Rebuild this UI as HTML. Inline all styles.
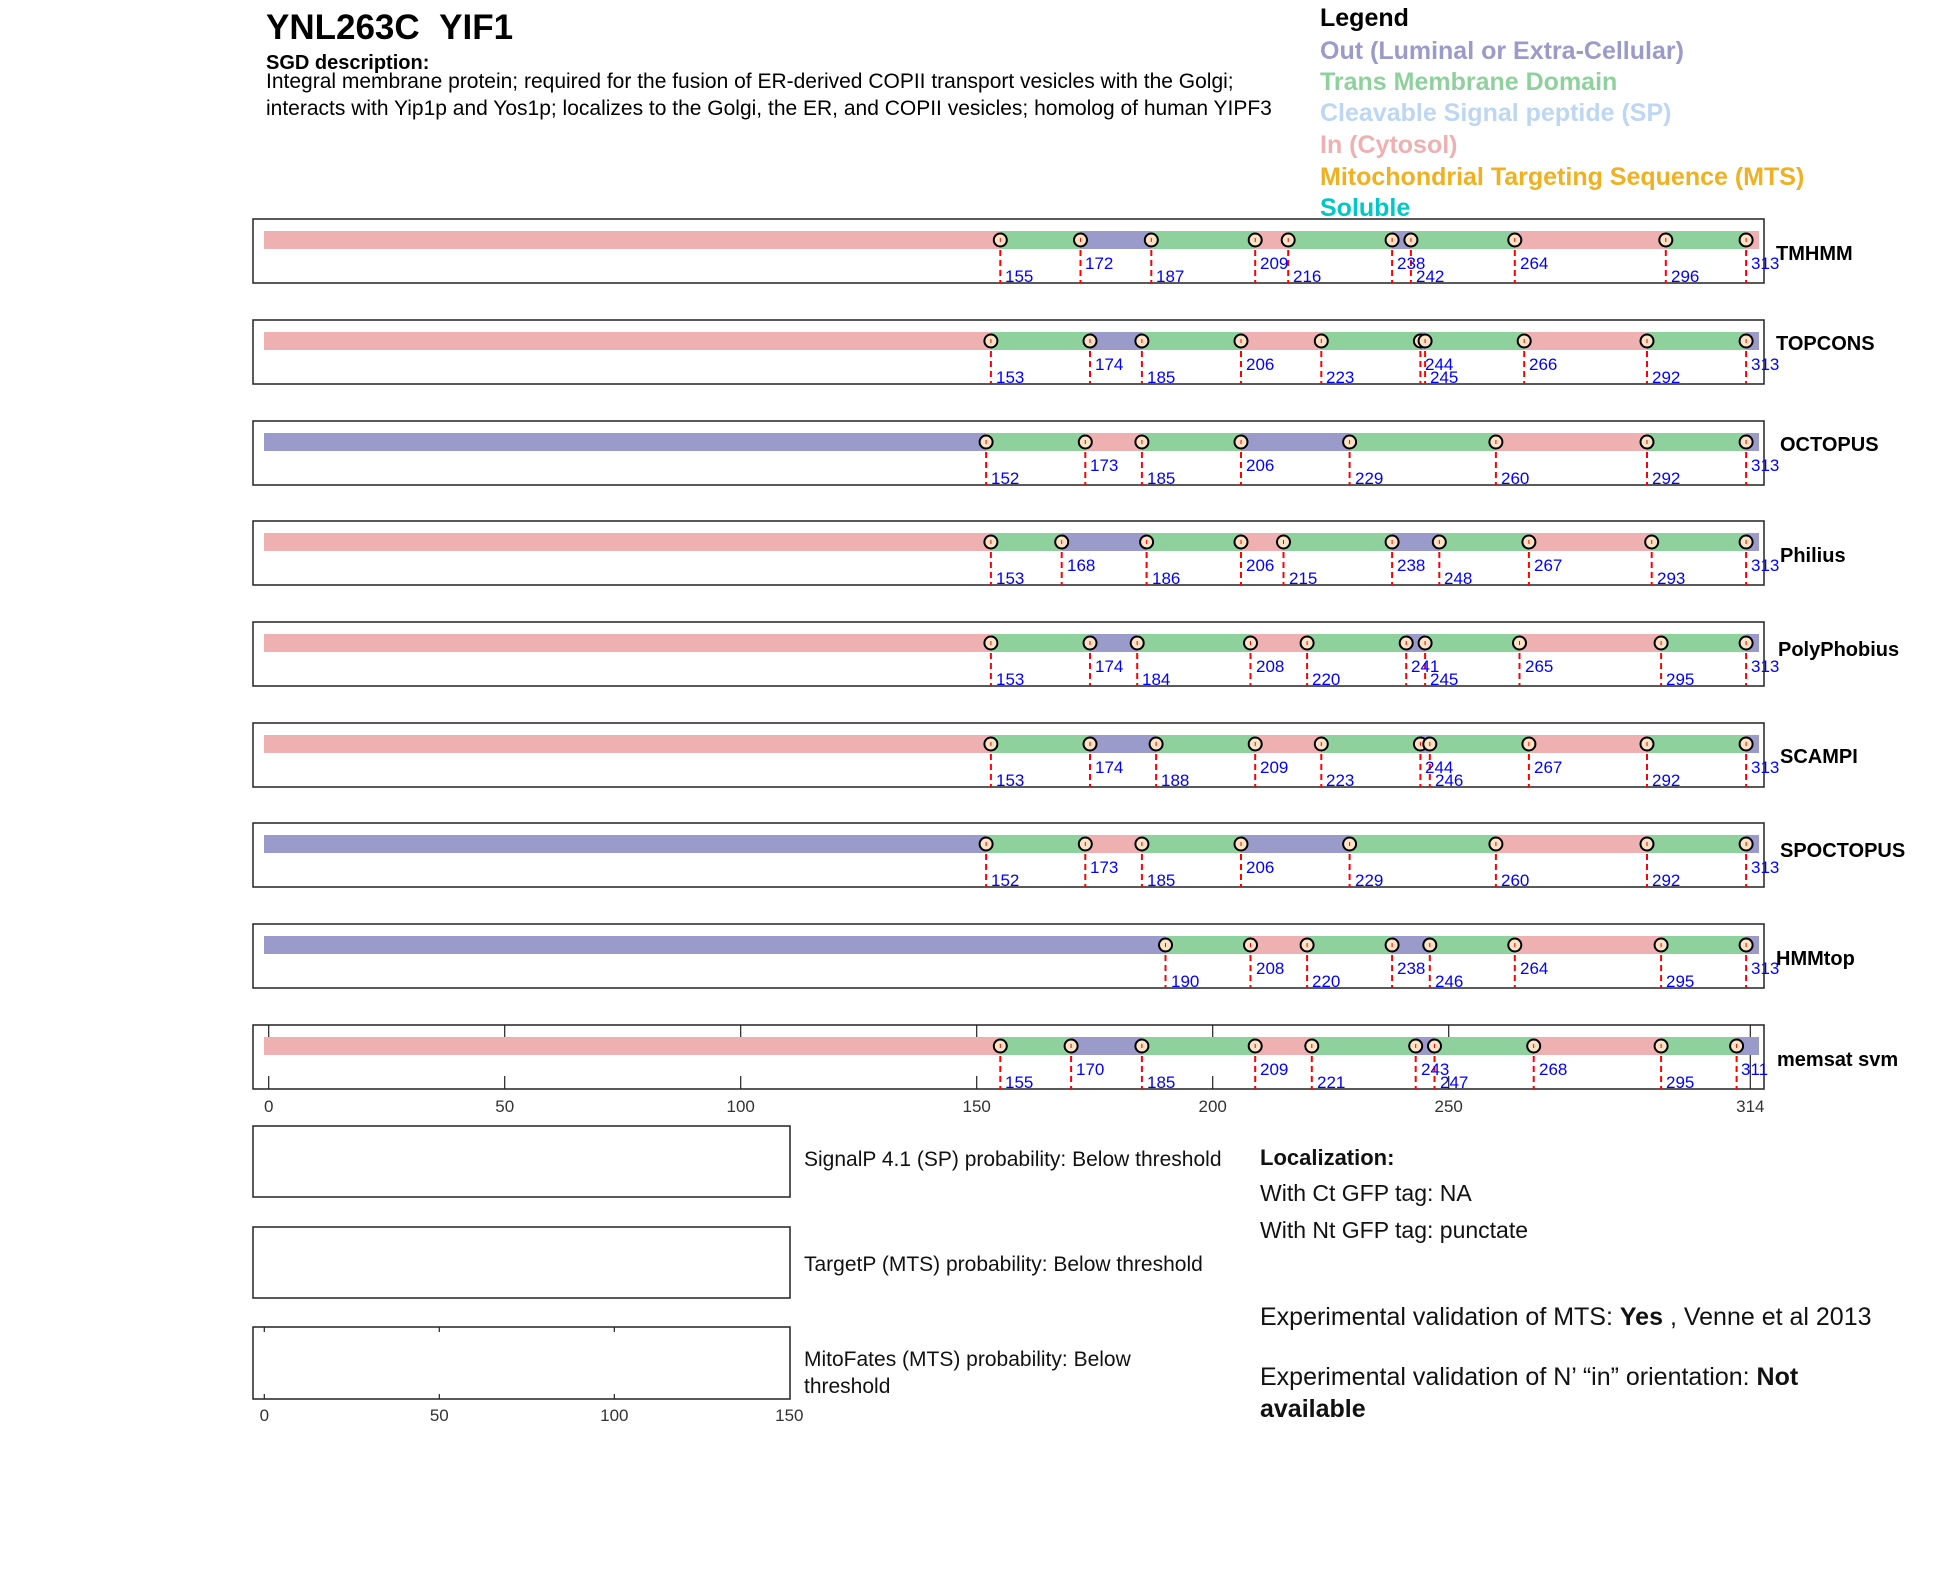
<!DOCTYPE html>
<html><head><meta charset="utf-8"><style>
body{margin:0;background:#fff;width:1950px;height:1573px;overflow:hidden;font-family:"Liberation Sans",Arial,sans-serif}
svg{position:absolute;left:0;top:0}
.lab{font-size:17px;fill:#0000ff}
.nm{font-size:20px;font-weight:bold;fill:#000}
.tk{font-size:17px;fill:#333}
</style></head><body>
<svg width="1950" height="1573" xmlns="http://www.w3.org/2000/svg" font-family="Liberation Sans, Arial, sans-serif">
<defs>
<g id="m"><line x1="0" y1="21" x2="0" y2="64" stroke="#f00" stroke-width="2" stroke-dasharray="6,4"/><circle cx="0" cy="21" r="6.5" fill="#fde3c5" stroke="#000" stroke-width="2"/><line x1="0" y1="19" x2="0" y2="23" stroke="#f00" stroke-width="1"/></g>
</defs>
<text x="266" y="39" font-size="35" font-weight="bold">YNL263C&#160;&#160;YIF1</text>
<text x="266" y="69" font-size="20" font-weight="bold">SGD description:</text>
<text x="266" y="88" font-size="21">Integral membrane protein; required for the fusion of ER-derived COPII transport vesicles with the Golgi;</text>
<text x="266" y="115" font-size="21">interacts with Yip1p and Yos1p; localizes to the Golgi, the ER, and COPII vesicles; homolog of human YIPF3</text>
<g font-size="25" font-weight="bold">
<text x="1320" y="26" fill="#000">Legend</text>
<text x="1320" y="59" fill="#9b9bcb">Out (Luminal or Extra-Cellular)</text>
<text x="1320" y="90" fill="#8fd19d">Trans Membrane Domain</text>
<text x="1320" y="121" fill="#bcd6f4">Cleavable Signal peptide (SP)</text>
<text x="1320" y="153" fill="#efb0b1">In (Cytosol)</text>
<text x="1320" y="185" fill="#f0b020">Mitochondrial Targeting Sequence (MTS)</text>
<text x="1320" y="216" fill="#00c8c8">Soluble</text>
</g>

<!-- Panel 1 TMHMM -->
<g transform="translate(0,219)">
<rect x="253" y="0" width="1511" height="64" fill="#fff" stroke="#222" stroke-width="1.5"/>
<g stroke-width="18">
<line x1="264" y1="21" x2="1000.3" y2="21" stroke="#efb0b1"/><line x1="1000.3" y1="21" x2="1080.5" y2="21" stroke="#8fd19d"/><line x1="1080.5" y1="21" x2="1151.3" y2="21" stroke="#9b9bcb"/><line x1="1151.3" y1="21" x2="1255.2" y2="21" stroke="#8fd19d"/><line x1="1255.2" y1="21" x2="1288.2" y2="21" stroke="#efb0b1"/><line x1="1288.2" y1="21" x2="1392.1" y2="21" stroke="#8fd19d"/><line x1="1392.1" y1="21" x2="1410.9" y2="21" stroke="#9b9bcb"/><line x1="1410.9" y1="21" x2="1514.8" y2="21" stroke="#8fd19d"/><line x1="1514.8" y1="21" x2="1665.8" y2="21" stroke="#efb0b1"/><line x1="1665.8" y1="21" x2="1746.1" y2="21" stroke="#8fd19d"/><line x1="1746.1" y1="21" x2="1759" y2="21" stroke="#efb0b1"/>
</g>
<use href="#m" x="1000.3"/><use href="#m" x="1080.5"/><use href="#m" x="1151.3"/><use href="#m" x="1255.2"/><use href="#m" x="1288.2"/><use href="#m" x="1392.1"/><use href="#m" x="1410.9"/><use href="#m" x="1514.8"/><use href="#m" x="1665.8"/><use href="#m" x="1746.1"/>
<g class="lab"><text x="1005" y="63">155</text><text x="1085" y="50">172</text><text x="1156" y="63">187</text><text x="1260" y="50">209</text><text x="1293" y="63">216</text><text x="1397" y="50">238</text><text x="1416" y="63">242</text><text x="1520" y="50">264</text><text x="1671" y="63">296</text><text x="1751" y="50">313</text></g>
<text class="nm" x="1776" y="41">TMHMM</text>
</g>

<!-- Panel 2 TOPCONS -->
<g transform="translate(0,320)">
<rect x="253" y="0" width="1511" height="64" fill="#fff" stroke="#222" stroke-width="1.5"/>
<g stroke-width="18">
<line x1="264" y1="21" x2="990.9" y2="21" stroke="#efb0b1"/><line x1="990.9" y1="21" x2="1090" y2="21" stroke="#8fd19d"/><line x1="1090" y1="21" x2="1141.9" y2="21" stroke="#9b9bcb"/><line x1="1141.9" y1="21" x2="1241" y2="21" stroke="#8fd19d"/><line x1="1241" y1="21" x2="1321.3" y2="21" stroke="#efb0b1"/><line x1="1321.3" y1="21" x2="1420.4" y2="21" stroke="#8fd19d"/><line x1="1420.4" y1="21" x2="1425.1" y2="21" stroke="#9b9bcb"/><line x1="1425.1" y1="21" x2="1524.2" y2="21" stroke="#8fd19d"/><line x1="1524.2" y1="21" x2="1647" y2="21" stroke="#efb0b1"/><line x1="1647" y1="21" x2="1746.1" y2="21" stroke="#8fd19d"/><line x1="1746.1" y1="21" x2="1759" y2="21" stroke="#9b9bcb"/>
</g>
<use href="#m" x="990.9"/><use href="#m" x="1090"/><use href="#m" x="1141.9"/><use href="#m" x="1241"/><use href="#m" x="1321.3"/><use href="#m" x="1420.4"/><use href="#m" x="1425.1"/><use href="#m" x="1524.2"/><use href="#m" x="1647"/><use href="#m" x="1746.1"/>
<g class="lab"><text x="996" y="63">153</text><text x="1095" y="50">174</text><text x="1147" y="63">185</text><text x="1246" y="50">206</text><text x="1326" y="63">223</text><text x="1425" y="50">244</text><text x="1430" y="63">245</text><text x="1529" y="50">266</text><text x="1652" y="63">292</text><text x="1751" y="50">313</text></g>
<text class="nm" x="1776" y="30">TOPCONS</text>
</g>

<!-- Panel 3 OCTOPUS -->
<g transform="translate(0,421)">
<rect x="253" y="0" width="1511" height="64" fill="#fff" stroke="#222" stroke-width="1.5"/>
<g stroke-width="18">
<line x1="264" y1="21" x2="986.1" y2="21" stroke="#9b9bcb"/><line x1="986.1" y1="21" x2="1085.3" y2="21" stroke="#8fd19d"/><line x1="1085.3" y1="21" x2="1141.9" y2="21" stroke="#efb0b1"/><line x1="1141.9" y1="21" x2="1241" y2="21" stroke="#8fd19d"/><line x1="1241" y1="21" x2="1349.6" y2="21" stroke="#9b9bcb"/><line x1="1349.6" y1="21" x2="1495.9" y2="21" stroke="#8fd19d"/><line x1="1495.9" y1="21" x2="1647" y2="21" stroke="#efb0b1"/><line x1="1647" y1="21" x2="1746.1" y2="21" stroke="#8fd19d"/><line x1="1746.1" y1="21" x2="1759" y2="21" stroke="#9b9bcb"/>
</g>
<use href="#m" x="986.1"/><use href="#m" x="1085.3"/><use href="#m" x="1141.9"/><use href="#m" x="1241"/><use href="#m" x="1349.6"/><use href="#m" x="1495.9"/><use href="#m" x="1647"/><use href="#m" x="1746.1"/>
<g class="lab"><text x="991" y="63">152</text><text x="1090" y="50">173</text><text x="1147" y="63">185</text><text x="1246" y="50">206</text><text x="1355" y="63">229</text><text x="1501" y="63">260</text><text x="1652" y="63">292</text><text x="1751" y="50">313</text></g>
<text class="nm" x="1780" y="30">OCTOPUS</text>
</g>

<!-- Panel 4 Philius -->
<g transform="translate(0,521)">
<rect x="253" y="0" width="1511" height="64" fill="#fff" stroke="#222" stroke-width="1.5"/>
<g stroke-width="18">
<line x1="264" y1="21" x2="990.9" y2="21" stroke="#efb0b1"/><line x1="990.9" y1="21" x2="1061.7" y2="21" stroke="#8fd19d"/><line x1="1061.7" y1="21" x2="1146.6" y2="21" stroke="#9b9bcb"/><line x1="1146.6" y1="21" x2="1241" y2="21" stroke="#8fd19d"/><line x1="1241" y1="21" x2="1283.5" y2="21" stroke="#efb0b1"/><line x1="1283.5" y1="21" x2="1392.1" y2="21" stroke="#8fd19d"/><line x1="1392.1" y1="21" x2="1439.3" y2="21" stroke="#9b9bcb"/><line x1="1439.3" y1="21" x2="1528.9" y2="21" stroke="#8fd19d"/><line x1="1528.9" y1="21" x2="1651.7" y2="21" stroke="#efb0b1"/><line x1="1651.7" y1="21" x2="1746.1" y2="21" stroke="#8fd19d"/><line x1="1746.1" y1="21" x2="1759" y2="21" stroke="#9b9bcb"/>
</g>
<use href="#m" x="990.9"/><use href="#m" x="1061.7"/><use href="#m" x="1146.6"/><use href="#m" x="1241"/><use href="#m" x="1283.5"/><use href="#m" x="1392.1"/><use href="#m" x="1439.3"/><use href="#m" x="1528.9"/><use href="#m" x="1651.7"/><use href="#m" x="1746.1"/>
<g class="lab"><text x="996" y="63">153</text><text x="1067" y="50">168</text><text x="1152" y="63">186</text><text x="1246" y="50">206</text><text x="1289" y="63">215</text><text x="1397" y="50">238</text><text x="1444" y="63">248</text><text x="1534" y="50">267</text><text x="1657" y="63">293</text><text x="1751" y="50">313</text></g>
<text class="nm" x="1780" y="41">Philius</text>
</g>

<!-- Panel 5 PolyPhobius -->
<g transform="translate(0,622)">
<rect x="253" y="0" width="1511" height="64" fill="#fff" stroke="#222" stroke-width="1.5"/>
<g stroke-width="18">
<line x1="264" y1="21" x2="990.9" y2="21" stroke="#efb0b1"/><line x1="990.9" y1="21" x2="1090" y2="21" stroke="#8fd19d"/><line x1="1090" y1="21" x2="1137.2" y2="21" stroke="#9b9bcb"/><line x1="1137.2" y1="21" x2="1250.5" y2="21" stroke="#8fd19d"/><line x1="1250.5" y1="21" x2="1307.1" y2="21" stroke="#efb0b1"/><line x1="1307.1" y1="21" x2="1406.2" y2="21" stroke="#8fd19d"/><line x1="1406.2" y1="21" x2="1425.1" y2="21" stroke="#9b9bcb"/><line x1="1425.1" y1="21" x2="1519.5" y2="21" stroke="#8fd19d"/><line x1="1519.5" y1="21" x2="1661.1" y2="21" stroke="#efb0b1"/><line x1="1661.1" y1="21" x2="1746.1" y2="21" stroke="#8fd19d"/><line x1="1746.1" y1="21" x2="1759" y2="21" stroke="#9b9bcb"/>
</g>
<use href="#m" x="990.9"/><use href="#m" x="1090"/><use href="#m" x="1137.2"/><use href="#m" x="1250.5"/><use href="#m" x="1307.1"/><use href="#m" x="1406.2"/><use href="#m" x="1425.1"/><use href="#m" x="1519.5"/><use href="#m" x="1661.1"/><use href="#m" x="1746.1"/>
<g class="lab"><text x="996" y="63">153</text><text x="1095" y="50">174</text><text x="1142" y="63">184</text><text x="1256" y="50">208</text><text x="1312" y="63">220</text><text x="1411" y="50">241</text><text x="1430" y="63">245</text><text x="1525" y="50">265</text><text x="1666" y="63">295</text><text x="1751" y="50">313</text></g>
<text class="nm" x="1778" y="34">PolyPhobius</text>
</g>

<!-- Panel 6 SCAMPI -->
<g transform="translate(0,723)">
<rect x="253" y="0" width="1511" height="64" fill="#fff" stroke="#222" stroke-width="1.5"/>
<g stroke-width="18">
<line x1="264" y1="21" x2="990.9" y2="21" stroke="#efb0b1"/><line x1="990.9" y1="21" x2="1090" y2="21" stroke="#8fd19d"/><line x1="1090" y1="21" x2="1156.1" y2="21" stroke="#9b9bcb"/><line x1="1156.1" y1="21" x2="1255.2" y2="21" stroke="#8fd19d"/><line x1="1255.2" y1="21" x2="1321.3" y2="21" stroke="#efb0b1"/><line x1="1321.3" y1="21" x2="1420.4" y2="21" stroke="#8fd19d"/><line x1="1420.4" y1="21" x2="1429.8" y2="21" stroke="#9b9bcb"/><line x1="1429.8" y1="21" x2="1528.9" y2="21" stroke="#8fd19d"/><line x1="1528.9" y1="21" x2="1647" y2="21" stroke="#efb0b1"/><line x1="1647" y1="21" x2="1746.1" y2="21" stroke="#8fd19d"/><line x1="1746.1" y1="21" x2="1759" y2="21" stroke="#9b9bcb"/>
</g>
<use href="#m" x="990.9"/><use href="#m" x="1090"/><use href="#m" x="1156.1"/><use href="#m" x="1255.2"/><use href="#m" x="1321.3"/><use href="#m" x="1420.4"/><use href="#m" x="1429.8"/><use href="#m" x="1528.9"/><use href="#m" x="1647"/><use href="#m" x="1746.1"/>
<g class="lab"><text x="996" y="63">153</text><text x="1095" y="50">174</text><text x="1161" y="63">188</text><text x="1260" y="50">209</text><text x="1326" y="63">223</text><text x="1425" y="50">244</text><text x="1435" y="63">246</text><text x="1534" y="50">267</text><text x="1652" y="63">292</text><text x="1751" y="50">313</text></g>
<text class="nm" x="1780" y="40">SCAMPI</text>
</g>

<!-- Panel 7 SPOCTOPUS -->
<g transform="translate(0,823)">
<rect x="253" y="0" width="1511" height="64" fill="#fff" stroke="#222" stroke-width="1.5"/>
<g stroke-width="18">
<line x1="264" y1="21" x2="986.1" y2="21" stroke="#9b9bcb"/><line x1="986.1" y1="21" x2="1085.3" y2="21" stroke="#8fd19d"/><line x1="1085.3" y1="21" x2="1141.9" y2="21" stroke="#efb0b1"/><line x1="1141.9" y1="21" x2="1241" y2="21" stroke="#8fd19d"/><line x1="1241" y1="21" x2="1349.6" y2="21" stroke="#9b9bcb"/><line x1="1349.6" y1="21" x2="1495.9" y2="21" stroke="#8fd19d"/><line x1="1495.9" y1="21" x2="1647" y2="21" stroke="#efb0b1"/><line x1="1647" y1="21" x2="1746.1" y2="21" stroke="#8fd19d"/><line x1="1746.1" y1="21" x2="1759" y2="21" stroke="#9b9bcb"/>
</g>
<use href="#m" x="986.1"/><use href="#m" x="1085.3"/><use href="#m" x="1141.9"/><use href="#m" x="1241"/><use href="#m" x="1349.6"/><use href="#m" x="1495.9"/><use href="#m" x="1647"/><use href="#m" x="1746.1"/>
<g class="lab"><text x="991" y="63">152</text><text x="1090" y="50">173</text><text x="1147" y="63">185</text><text x="1246" y="50">206</text><text x="1355" y="63">229</text><text x="1501" y="63">260</text><text x="1652" y="63">292</text><text x="1751" y="50">313</text></g>
<text class="nm" x="1780" y="34">SPOCTOPUS</text>
</g>

<!-- Panel 8 HMMtop -->
<g transform="translate(0,924)">
<rect x="253" y="0" width="1511" height="64" fill="#fff" stroke="#222" stroke-width="1.5"/>
<g stroke-width="18">
<line x1="264" y1="21" x2="1165.5" y2="21" stroke="#9b9bcb"/><line x1="1165.5" y1="21" x2="1250.5" y2="21" stroke="#8fd19d"/><line x1="1250.5" y1="21" x2="1307.1" y2="21" stroke="#efb0b1"/><line x1="1307.1" y1="21" x2="1392.1" y2="21" stroke="#8fd19d"/><line x1="1392.1" y1="21" x2="1429.8" y2="21" stroke="#9b9bcb"/><line x1="1429.8" y1="21" x2="1514.8" y2="21" stroke="#8fd19d"/><line x1="1514.8" y1="21" x2="1661.1" y2="21" stroke="#efb0b1"/><line x1="1661.1" y1="21" x2="1746.1" y2="21" stroke="#8fd19d"/><line x1="1746.1" y1="21" x2="1759" y2="21" stroke="#9b9bcb"/>
</g>
<use href="#m" x="1165.5"/><use href="#m" x="1250.5"/><use href="#m" x="1307.1"/><use href="#m" x="1392.1"/><use href="#m" x="1429.8"/><use href="#m" x="1514.8"/><use href="#m" x="1661.1"/><use href="#m" x="1746.1"/>
<g class="lab"><text x="1171" y="63">190</text><text x="1256" y="50">208</text><text x="1312" y="63">220</text><text x="1397" y="50">238</text><text x="1435" y="63">246</text><text x="1520" y="50">264</text><text x="1666" y="63">295</text><text x="1751" y="50">313</text></g>
<text class="nm" x="1776" y="41">HMMtop</text>
</g>

<!-- Panel 9 memsat svm -->
<g transform="translate(0,1025)">
<rect x="253" y="0" width="1511" height="64" fill="#fff" stroke="#222" stroke-width="1.5"/>
<g stroke="#222" stroke-width="1.2">
<line x1="268.7" y1="0" x2="268.7" y2="13"/><line x1="268.7" y1="51" x2="268.7" y2="64"/>
<line x1="504.7" y1="0" x2="504.7" y2="13"/><line x1="504.7" y1="51" x2="504.7" y2="64"/>
<line x1="740.7" y1="0" x2="740.7" y2="13"/><line x1="740.7" y1="51" x2="740.7" y2="64"/>
<line x1="976.7" y1="0" x2="976.7" y2="13"/><line x1="976.7" y1="51" x2="976.7" y2="64"/>
<line x1="1212.7" y1="0" x2="1212.7" y2="13"/><line x1="1212.7" y1="51" x2="1212.7" y2="64"/>
<line x1="1448.7" y1="0" x2="1448.7" y2="13"/><line x1="1448.7" y1="51" x2="1448.7" y2="64"/>
<line x1="1750.3" y1="0" x2="1750.3" y2="64"/>
</g>
<g stroke-width="18">
<line x1="264" y1="21" x2="1000.3" y2="21" stroke="#efb0b1"/><line x1="1000.3" y1="21" x2="1071.1" y2="21" stroke="#8fd19d"/><line x1="1071.1" y1="21" x2="1141.9" y2="21" stroke="#9b9bcb"/><line x1="1141.9" y1="21" x2="1255.2" y2="21" stroke="#8fd19d"/><line x1="1255.2" y1="21" x2="1311.8" y2="21" stroke="#efb0b1"/><line x1="1311.8" y1="21" x2="1415.7" y2="21" stroke="#8fd19d"/><line x1="1415.7" y1="21" x2="1434.5" y2="21" stroke="#9b9bcb"/><line x1="1434.5" y1="21" x2="1533.7" y2="21" stroke="#8fd19d"/><line x1="1533.7" y1="21" x2="1661.1" y2="21" stroke="#efb0b1"/><line x1="1661.1" y1="21" x2="1736.6" y2="21" stroke="#8fd19d"/><line x1="1736.6" y1="21" x2="1759" y2="21" stroke="#9b9bcb"/>
</g>
<use href="#m" x="1000.3"/><use href="#m" x="1071.1"/><use href="#m" x="1141.9"/><use href="#m" x="1255.2"/><use href="#m" x="1311.8"/><use href="#m" x="1415.7"/><use href="#m" x="1434.5"/><use href="#m" x="1533.7"/><use href="#m" x="1661.1"/><use href="#m" x="1736.6"/>
<g class="lab"><text x="1005" y="63">155</text><text x="1076" y="50">170</text><text x="1147" y="63">185</text><text x="1260" y="50">209</text><text x="1317" y="63">221</text><text x="1421" y="50">243</text><text x="1440" y="63">247</text><text x="1539" y="50">268</text><text x="1666" y="63">295</text><text x="1741" y="50">311</text></g>
<text class="nm" x="1777" y="41">memsat svm</text>
<g class="tk" text-anchor="middle"><text x="268.7" y="87">0</text><text x="504.7" y="87">50</text><text x="740.7" y="87">100</text><text x="976.7" y="87">150</text><text x="1212.7" y="87">200</text><text x="1448.7" y="87">250</text><text x="1750.3" y="87">314</text></g>
</g>

<!-- bottom boxes -->
<rect x="253" y="1126" width="537" height="71" fill="#fff" stroke="#222" stroke-width="1.5"/>
<rect x="253" y="1227" width="537" height="71" fill="#fff" stroke="#222" stroke-width="1.5"/>
<rect x="253" y="1327" width="537" height="72" fill="#fff" stroke="#222" stroke-width="1.5"/>
<g stroke="#222" stroke-width="1.2">
<line x1="264.3" y1="1327" x2="264.3" y2="1332"/><line x1="264.3" y1="1394" x2="264.3" y2="1399"/>
<line x1="439.3" y1="1327" x2="439.3" y2="1332"/><line x1="439.3" y1="1394" x2="439.3" y2="1399"/>
<line x1="614.3" y1="1327" x2="614.3" y2="1332"/><line x1="614.3" y1="1394" x2="614.3" y2="1399"/>
</g>
<g class="tk" text-anchor="middle"><text x="264.3" y="1421">0</text><text x="439.3" y="1421">50</text><text x="614.3" y="1421">100</text><text x="789.3" y="1421">150</text></g>
<g font-size="21" fill="#111">
<text x="804" y="1166">SignalP 4.1 (SP) probability: Below threshold</text>
<text x="804" y="1271">TargetP (MTS) probability: Below threshold</text>
<text x="804" y="1366">MitoFates (MTS) probability: Below</text>
<text x="804" y="1393">threshold</text>
</g>
<g font-size="23" fill="#111">
<text x="1260" y="1165" font-weight="bold" font-size="22">Localization:</text>
<text x="1260" y="1201">With Ct GFP tag: NA</text>
<text x="1260" y="1238">With Nt GFP tag: punctate</text>
<text x="1260" y="1325" font-size="25">Experimental validation of MTS: <tspan font-weight="bold">Yes</tspan> , Venne et al 2013</text>
<text x="1260" y="1385" font-size="25">Experimental validation of N’ “in” orientation: <tspan font-weight="bold">Not</tspan></text>
<text x="1260" y="1417" font-size="25" font-weight="bold">available</text>
</g>
</svg>
</body></html>
